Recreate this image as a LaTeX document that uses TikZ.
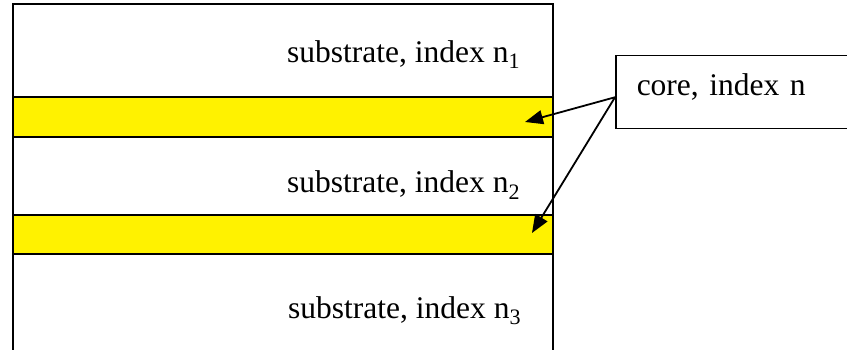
\documentclass[tikz,border=0pt]{standalone}
\usepackage{fontspec}
\setmainfont{Liberation Serif}
\usetikzlibrary{positioning, arrows.meta}
\tikzset{
    wall/.style={line width=1.5pt},
    layertext/.style={anchor=base west, inner sep=0pt, font=\fontsize{31.5}{36}\selectfont},
    corebox/.style={draw, line width=1.5pt, anchor=north west, minimum width=245pt, minimum height=73pt,
        inner xsep=21pt, text width=203pt, align=left, text height=21pt, text depth=14pt, font=\fontsize{31.5}{36}\selectfont},
    pointer/.style={-{Triangle[length=18pt,width=14pt]}, line width=1.8pt}
}
\begin{document}
\begin{tikzpicture}[x=1pt,y=-1pt]
    \useasboundingbox (0,0) rectangle (847,350);
    \clip (0,0) rectangle (847,350);
    % core layers
    \fill[yellow] (13,97) rectangle (553,137);
    \fill[yellow] (13,215) rectangle (553,254);
    \foreach \y in {97,137,215,254}{
        \draw[wall] (13,\y) -- (553,\y);
    }
    \draw[wall] (13,360) -- (13,4) -- (553,4) -- (553,360);
    \node[layertext] (sub1) at (287,63) {substrate, index n\textsubscript{1}};
    \node[layertext] (sub2) at (287,193) {substrate, index n\textsubscript{2}};
    \node[layertext] (sub3) at (288,318) {substrate, index n\textsubscript{3}};
    \node[corebox] (core) at (615,55) {core, index n};
    \coordinate (tip1) at (525,122);
    \coordinate (tip2) at (532,233);
    \draw[pointer] ([yshift=-5pt]core.west) -- (tip1);
    \draw[pointer] ([yshift=-5pt]core.west) -- (tip2);
\end{tikzpicture}
\end{document}
